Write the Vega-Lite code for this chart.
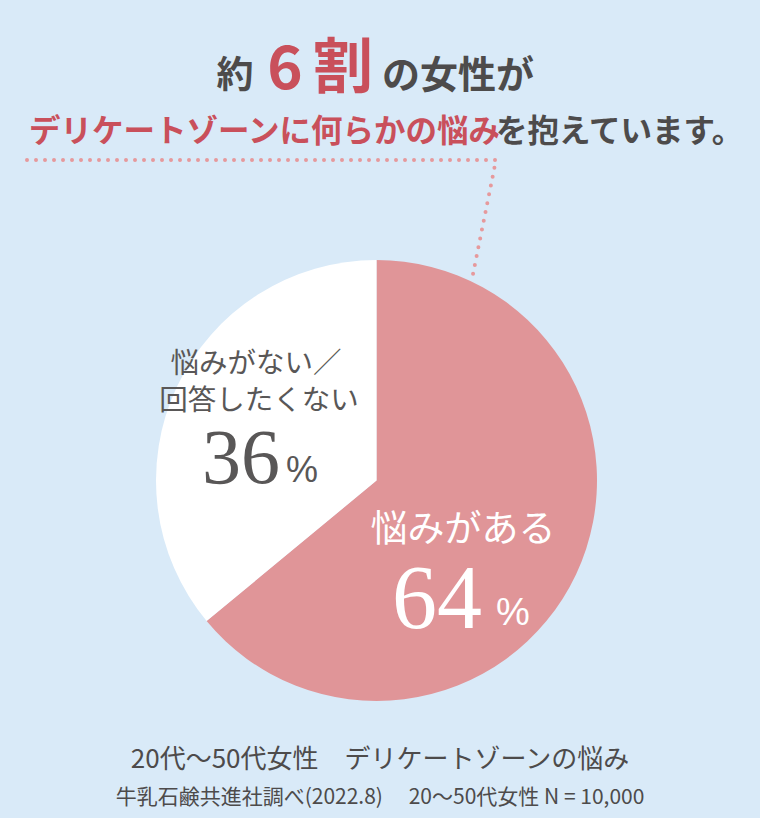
{
  "$schema": "https://vega.github.io/schema/vega-lite/v6.json",
  "width": 760,
  "height": 818,
  "autosize": {"type": "fit", "contains": "padding"},
  "padding": 0,
  "background": "#d9eaf8",
  "config": {"view": {"stroke": null}, "text": {"font": "Noto Sans CJK JP"}},
  "layer": [
    {
      "data": {"values": [
        {"answer": "悩みがある", "value": 64, "rank": 1},
        {"answer": "悩みがない／回答したくない", "value": 36, "rank": 2}
      ]},
      "mark": {"type": "arc", "radius": 220.5, "stroke": null},
      "encoding": {
        "theta": {"field": "value", "type": "quantitative", "stack": true},
        "order": {"field": "rank", "type": "quantitative"},
        "color": {"field": "answer", "type": "nominal", "legend": null,
          "scale": {"domain": ["悩みがある", "悩みがない／回答したくない"], "range": ["#e09598", "#ffffff"]}},
        "x": {"datum": 376.5, "type": "quantitative", "axis": null, "scale": {"domain": [0, 760], "nice": false, "zero": false}},
        "y": {"datum": 480.5, "type": "quantitative", "axis": null, "scale": {"domain": [0, 818], "nice": false, "zero": false, "reverse": true}}
      }
    },
    {
      "data": {"values": [
        {"px": 27, "py": 160, "i": 1},
        {"px": 496, "py": 160, "i": 2},
        {"px": 473, "py": 274, "i": 3}
      ]},
      "mark": {"type": "line", "color": "#e6999c", "strokeWidth": 4, "strokeCap": "round", "strokeDash": [0, 9]},
      "encoding": {
        "x": {"field": "px", "type": "quantitative"},
        "y": {"field": "py", "type": "quantitative"},
        "order": {"field": "i", "type": "quantitative"}
      }
    },
    {
      "data": {"values": [{"t": "約"}]},
      "mark": {"type": "text", "fontSize": 37, "fontWeight": "bold", "color": "#4d4b4b", "align": "center", "baseline": "alphabetic"},
      "encoding": {"text": {"field": "t"}, "x": {"datum": 235, "type": "quantitative"}, "y": {"datum": 88, "type": "quantitative"}}
    },
    {
      "data": {"values": [{"t": "6"}]},
      "mark": {"type": "text", "fontSize": 60, "fontWeight": "bold", "color": "#c9505b", "align": "center", "baseline": "alphabetic"},
      "encoding": {"text": {"field": "t"}, "x": {"datum": 285, "type": "quantitative"}, "y": {"datum": 89, "type": "quantitative"}}
    },
    {
      "data": {"values": [{"t": "割"}]},
      "mark": {"type": "text", "fontSize": 60, "fontWeight": "bold", "color": "#c9505b", "align": "center", "baseline": "alphabetic"},
      "encoding": {"text": {"field": "t"}, "x": {"datum": 343, "type": "quantitative"}, "y": {"datum": 88, "type": "quantitative"}}
    },
    {
      "data": {"values": [{"t": "の女性が"}]},
      "mark": {"type": "text", "fontSize": 38, "fontWeight": "bold", "color": "#4d4b4b", "align": "center", "baseline": "alphabetic"},
      "encoding": {"text": {"field": "t"}, "x": {"datum": 458, "type": "quantitative"}, "y": {"datum": 88, "type": "quantitative"}}
    },
    {
      "data": {"values": [{"t": "デリケートゾーンに何らかの悩み"}]},
      "mark": {"type": "text", "fontSize": 31.5, "fontWeight": "bold", "color": "#c9505b", "align": "left", "baseline": "alphabetic"},
      "encoding": {"text": {"field": "t"}, "x": {"datum": 29, "type": "quantitative"}, "y": {"datum": 142, "type": "quantitative"}}
    },
    {
      "data": {"values": [{"t": "を抱えています。"}]},
      "mark": {"type": "text", "fontSize": 31.5, "fontWeight": "bold", "color": "#4d4b4b", "align": "left", "baseline": "alphabetic"},
      "encoding": {"text": {"field": "t"}, "x": {"datum": 496, "type": "quantitative"}, "y": {"datum": 142, "type": "quantitative"}}
    },
    {
      "data": {"values": [{"t": "悩みがない／"}]},
      "mark": {"type": "text", "fontSize": 28.5, "color": "#595757", "align": "center", "baseline": "alphabetic"},
      "encoding": {"text": {"field": "t"}, "x": {"datum": 256, "type": "quantitative"}, "y": {"datum": 373, "type": "quantitative"}}
    },
    {
      "data": {"values": [{"t": "回答したくない"}]},
      "mark": {"type": "text", "fontSize": 28.5, "color": "#595757", "align": "center", "baseline": "alphabetic"},
      "encoding": {"text": {"field": "t"}, "x": {"datum": 259, "type": "quantitative"}, "y": {"datum": 410, "type": "quantitative"}}
    },
    {
      "data": {"values": [{"t": "36"}]},
      "mark": {"type": "text", "fontSize": 78, "font": "Liberation Serif", "color": "#595757", "align": "center", "baseline": "alphabetic"},
      "encoding": {"text": {"field": "t"}, "x": {"datum": 241, "type": "quantitative"}, "y": {"datum": 483, "type": "quantitative"}}
    },
    {
      "data": {"values": [{"t": "%"}]},
      "mark": {"type": "text", "fontSize": 36, "font": "Liberation Sans", "color": "#595757", "align": "center", "baseline": "alphabetic"},
      "encoding": {"text": {"field": "t"}, "x": {"datum": 302, "type": "quantitative"}, "y": {"datum": 482, "type": "quantitative"}}
    },
    {
      "data": {"values": [{"t": "悩みがある"}]},
      "mark": {"type": "text", "fontSize": 37, "color": "#ffffff", "align": "center", "baseline": "alphabetic"},
      "encoding": {"text": {"field": "t"}, "x": {"datum": 463, "type": "quantitative"}, "y": {"datum": 542, "type": "quantitative"}}
    },
    {
      "data": {"values": [{"t": "64"}]},
      "mark": {"type": "text", "fontSize": 90, "font": "Liberation Serif", "color": "#ffffff", "align": "center", "baseline": "alphabetic"},
      "encoding": {"text": {"field": "t"}, "x": {"datum": 437, "type": "quantitative"}, "y": {"datum": 628, "type": "quantitative"}}
    },
    {
      "data": {"values": [{"t": "%"}]},
      "mark": {"type": "text", "fontSize": 38, "font": "Liberation Sans", "color": "#ffffff", "align": "center", "baseline": "alphabetic"},
      "encoding": {"text": {"field": "t"}, "x": {"datum": 513, "type": "quantitative"}, "y": {"datum": 625, "type": "quantitative"}}
    },
    {
      "data": {"values": [{"t": "20代～50代女性　デリケートゾーンの悩み"}]},
      "mark": {"type": "text", "fontSize": 26, "color": "#4d4b4b", "align": "center", "baseline": "alphabetic"},
      "encoding": {"text": {"field": "t"}, "x": {"datum": 380, "type": "quantitative"}, "y": {"datum": 768, "type": "quantitative"}}
    },
    {
      "data": {"values": [{"t": "牛乳石鹸共進社調べ(2022.8)　 20～50代女性  N = 10,000"}]},
      "mark": {"type": "text", "fontSize": 21, "color": "#4d4b4b", "align": "center", "baseline": "alphabetic"},
      "encoding": {"text": {"field": "t"}, "x": {"datum": 380, "type": "quantitative"}, "y": {"datum": 804, "type": "quantitative"}}
    }
  ]
}
